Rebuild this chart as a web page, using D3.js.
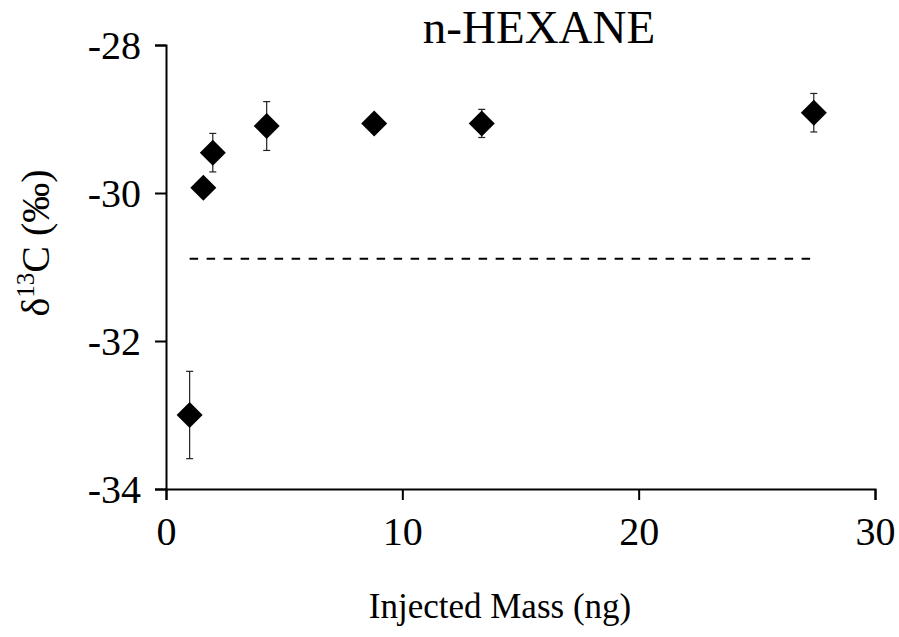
<!DOCTYPE html>
<html>
<head>
<meta charset="utf-8">
<script src="https://cdn.jsdelivr.net/npm/d3@7"></script>
<style>
  html, body { margin: 0; padding: 0; background: #fff; }
  svg { display: block; }
  text { font-family: "Liberation Serif", "Times New Roman", serif; fill: #000; }
</style>
</head>
<body>
<svg id="chart" width="899" height="637"></svg>
<script>
// Injected mass (ng) against measured δ13C (‰) for n-hexane
const injectedMass = [1.0, 1.58, 1.98, 4.26, 8.81, 13.36, 27.41];
const delta13C     = [-33.0, -29.93, -29.455, -29.095, -29.06, -29.06, -28.915];
const errorSD      = [0.59, 0, 0.26, 0.33, 0, 0.19, 0.26];

// Reference value line
const referenceValue = -30.89;
const referenceRange = [1.0, 27.41];

const xTicks = [0, 10, 20, 30];
const yTicks = [-28, -30, -32, -34];

const svg = d3.select("#chart");
const x = d3.scaleLinear().domain([0, 30]).range([166, 875]);
const y = d3.scaleLinear().domain([-34, -28]).range([489, 45]);

// Axes
const xAxis = svg.append("g")
  .attr("transform", `translate(0,${y(-34)})`)
  .call(d3.axisBottom(x).tickValues(xTicks).tickSizeOuter(0).tickSize(11).tickPadding(17).tickFormat(d3.format("d")));
const yAxis = svg.append("g")
  .attr("transform", `translate(${x(0)},0)`)
  .call(d3.axisLeft(y).tickValues(yTicks).tickSizeOuter(0).tickSize(11).tickPadding(14).tickFormat(d => d3.format("d")(d).replace("−", "-")));

[xAxis, yAxis].forEach(g => {
  g.attr("font-size", null).attr("font-family", null);
  g.select(".domain").attr("stroke", "#000").attr("stroke-width", 2);
  g.selectAll(".tick line").attr("stroke", "#000").attr("stroke-width", 2);
  g.selectAll(".tick text").attr("fill", "#000")
    .style("font-size", "40px")
    .style("font-family", '"Liberation Serif", "Times New Roman", serif');
});
yAxis.selectAll(".tick text").attr("dy", "0.34em");

// Dashed reference line
svg.append("line")
  .attr("x1", x(referenceRange[0])).attr("x2", x(referenceRange[1]))
  .attr("y1", y(referenceValue)).attr("y2", y(referenceValue))
  .attr("stroke", "#000").attr("stroke-width", 2)
  .attr("stroke-dasharray", "8.5,8.5");

const pts = injectedMass.map((m, i) => ({ m, v: delta13C[i], e: errorSD[i] }));

// Error bars
const eb = svg.append("g").attr("stroke", "#222").attr("stroke-width", 1.2);
pts.filter(d => d.e > 0).forEach(d => {
  const cx = x(d.m);
  eb.append("line").attr("x1", cx).attr("x2", cx).attr("y1", y(d.v + d.e)).attr("y2", y(d.v - d.e));
  [d.v + d.e, d.v - d.e].forEach(v => {
    eb.append("line").attr("x1", cx - 3.5).attr("x2", cx + 3.5).attr("y1", y(v)).attr("y2", y(v));
  });
});

// Diamond markers
const r = 13;
svg.append("g").selectAll("path").data(pts).join("path")
  .attr("d", d => {
    const cx = x(d.m), cy = y(d.v);
    return `M${cx},${cy - r}L${cx + r},${cy}L${cx},${cy + r}L${cx - r},${cy}Z`;
  })
  .attr("fill", "#000");

// Title and axis titles
svg.append("text").attr("x", 539).attr("y", 43).attr("text-anchor", "middle")
  .style("font-size", "47px").text("n-HEXANE");

svg.append("text").attr("x", 500).attr("y", 618).attr("text-anchor", "middle")
  .style("font-size", "35px").text("Injected Mass (ng)");

const yl = svg.append("text").attr("transform", "translate(49,243) rotate(-90)")
  .attr("text-anchor", "middle").style("font-size", "40px");
yl.append("tspan").text("δ");
yl.append("tspan").style("font-size", "25px").attr("dy", -15).text("13");
yl.append("tspan").attr("dy", 15).text("C (‰)");
</script>
</body>
</html>
